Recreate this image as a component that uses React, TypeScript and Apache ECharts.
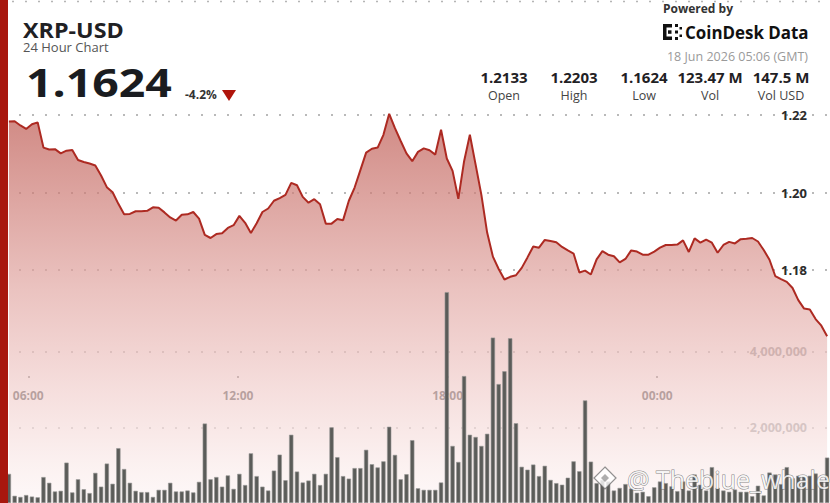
import { useEffect, useRef } from 'react';
import * as echarts from 'echarts';

const FONT = '"Open Sans", "Noto Sans", sans-serif';

// 10-minute slots, 05:30 onwards
const times: string[] = Array.from({ length: 143 }, (_, i) => {
  const m = (330 + i * 10) % 1440;
  return `${String(Math.floor(m / 60)).padStart(2, '0')}:${String(m % 60).padStart(2, '0')}`;
});

const prices = [
  1.2183, 1.2184, 1.2173, 1.2164, 1.2176, 1.2181, 1.2116, 1.2111, 1.2112, 1.2101,
  1.2108, 1.2110, 1.2084, 1.2079, 1.2075, 1.2070, 1.2044, 1.2014, 1.2001, 1.1971,
  1.1944, 1.1945, 1.1952, 1.1952, 1.1953, 1.1962, 1.1961, 1.1949, 1.1936, 1.1928,
  1.1943, 1.1944, 1.1950, 1.1933, 1.1891, 1.1883, 1.1893, 1.1895, 1.1909, 1.1916,
  1.1940, 1.1922, 1.1896, 1.1921, 1.1950, 1.1959, 1.1979, 1.1986, 1.1994, 1.2025,
  1.2019, 1.1989, 1.1974, 1.1983, 1.1970, 1.1920, 1.1920, 1.1932, 1.1929, 1.1979,
  1.2013, 1.2058, 1.2103, 1.2113, 1.2116, 1.2149, 1.2203, 1.2166, 1.2133, 1.2101,
  1.2081, 1.2105, 1.2114, 1.2109, 1.2098, 1.2162, 1.2088, 1.2056, 1.1984, 1.2081,
  1.2149, 1.2072, 1.1994, 1.1897, 1.1835, 1.1803, 1.1776, 1.1783, 1.1787, 1.1806,
  1.1833, 1.1861, 1.1858, 1.1878, 1.1875, 1.1872, 1.1860, 1.1851, 1.1843, 1.1794,
  1.1799, 1.1789, 1.1828, 1.1849, 1.1840, 1.1836, 1.1820, 1.1829, 1.1851, 1.1848,
  1.1840, 1.1840, 1.1848, 1.1858, 1.1865, 1.1865, 1.1866, 1.1877, 1.1847, 1.1882,
  1.1871, 1.1879, 1.1871, 1.1845, 1.1865, 1.1873, 1.1869, 1.1880, 1.1881, 1.1883,
  1.1874, 1.1852, 1.1827, 1.1785, 1.1777, 1.1770, 1.1754, 1.1723, 1.1701, 1.1699,
  1.1674, 1.1657, 1.1630,
];

const volumes = [
  770000, 190000, 160000, 210000, 170000, 150000, 686000, 534000, 305000, 322000,
  1067000, 280000, 627000, 364000, 262000, 796000, 432000, 1042000, 508000, 1449000,
  898000, 534000, 322000, 288000, 288000, 160000, 347000, 347000, 534000, 305000,
  305000, 330000, 280000, 559000, 2100000, 627000, 686000, 432000, 729000, 373000,
  770000, 475000, 1313000, 711000, 432000, 330000, 856000, 1278000, 602000, 1804000,
  831000, 542000, 593000, 771000, 475000, 771000, 2000000, 1211000, 711000, 644000,
  923000, 923000, 1406000, 1025000, 940000, 1101000, 2016000, 1271000, 627000, 762000,
  1660000, 389000, 347000, 347000, 347000, 542000, 5573000, 1508000, 1084000, 3355000,
  1804000, 1745000, 1508000, 1830000, 4371000, 3143000, 3482000, 4354000, 2109000, 957000,
  881000, 1016000, 711000, 983000, 610000, 525000, 483000, 668000, 1101000, 839000,
  2711000, 1093000, 525000, 610000, 568000, 330000, 398000, 500000, 381000, 271000,
  296000, 180000, 415000, 568000, 525000, 440000, 313000, 568000, 330000, 754000,
  483000, 330000, 948000, 398000, 330000, 296000, 356000, 296000, 296000, 180000,
  457000, 200000, 805000, 754000, 500000, 948000, 653000, 720000, 695000, 720000,
  780000, 610000, 1200000,
];

const tickHours = [6, 12, 18, 24];
const tickLabels = ['06:00', '12:00', '18:00', '00:00'];

const statValues = ['1.2133', '1.2203', '1.1624', '123.47 M', '147.5 M'];
const statLabels = ['Open', 'High', 'Low', 'Vol', 'Vol USD'];
const statCenters = [504, 574, 644, 710, 781];

const dotted = { type: [2, 11] as number[], width: 1.5, color: '#a3a3a3' };

export default function App() {
  const chartRef = useRef<HTMLDivElement>(null);

  useEffect(() => {
    if (!chartRef.current) return;
    const chart = echarts.init(chartRef.current, null, { renderer: 'svg' });

    const graphics: any[] = [
      // top dotted rule
      {
        type: 'line',
        shape: { x1: 12, y1: 1.5, x2: 830, y2: 1.5 },
        style: { stroke: '#b5b5b5', lineWidth: 1.5, lineDash: [2, 11] },
      },
      // left accent bar
      { type: 'rect', z: 100, shape: { x: 0, y: 0, width: 8, height: 503 }, style: { fill: '#a8170e' } },
      {
        type: 'text', x: 23, y: 29.3, scaleX: 1.06,
        style: { text: 'XRP-USD', font: `bold 22px ${FONT}`, fill: '#1f2124', verticalAlign: 'middle' },
      },
      {
        type: 'text', x: 23, y: 46.5,
        style: { text: '24 Hour Chart', font: `13px ${FONT}`, fill: '#555', verticalAlign: 'middle' },
      },
      {
        type: 'text', x: 26, y: 81.5, scaleX: 1.19,
        style: { text: '1.1624', font: `bold 39px ${FONT}`, fill: '#1a1c20', verticalAlign: 'middle' },
      },
      {
        type: 'text', x: 185, y: 94.7,
        style: { text: '-4.2%', font: `bold 12px ${FONT}`, fill: '#333', verticalAlign: 'middle' },
      },
      {
        type: 'polygon',
        shape: { points: [[222, 90], [236, 90], [229, 101]] },
        style: { fill: '#b0150c' },
      },
      {
        type: 'text', x: 663, y: 8,
        style: { text: 'Powered by', font: `bold 12px ${FONT}`, fill: '#333', verticalAlign: 'middle' },
      },
      // CoinDesk mark
      { type: 'rect', shape: { x: 663, y: 24, width: 3.5, height: 16 }, style: { fill: '#111' } },
      { type: 'rect', shape: { x: 663, y: 24, width: 9, height: 3.5 }, style: { fill: '#111' } },
      { type: 'rect', shape: { x: 663, y: 36.5, width: 9, height: 3.5 }, style: { fill: '#111' } },
      { type: 'rect', shape: { x: 668, y: 30.3, width: 3.5, height: 3.5 }, style: { fill: '#111' } },
      { type: 'rect', shape: { x: 675, y: 24, width: 3, height: 3 }, style: { fill: '#111' } },
      { type: 'rect', shape: { x: 675, y: 30.5, width: 3, height: 3 }, style: { fill: '#111' } },
      { type: 'rect', shape: { x: 675, y: 37, width: 3, height: 3 }, style: { fill: '#111' } },
      { type: 'rect', shape: { x: 679.5, y: 27, width: 2.5, height: 2.5 }, style: { fill: '#111' } },
      { type: 'rect', shape: { x: 679.5, y: 34.5, width: 2.5, height: 2.5 }, style: { fill: '#111' } },
      {
        type: 'text', x: 685, y: 32, scaleX: 0.94,
        style: { text: 'CoinDesk Data', font: `bold 18px ${FONT}`, fill: '#111', verticalAlign: 'middle' },
      },
      {
        type: 'text', x: 808, y: 56.5,
        style: { text: '18 Jun 2026 05:06 (GMT)', font: `12.5px ${FONT}`, fill: '#9a9a9a', align: 'right', verticalAlign: 'middle' },
      },
      // watermark
      {
        type: 'polygon', z: 50,
        shape: { points: [[605, 467], [616, 478], [605, 489], [594, 478]] },
        style: { fill: 'rgba(255,255,255,0.8)', stroke: 'rgba(100,100,100,0.7)', lineWidth: 1.2 },
      },
      {
        type: 'polygon', z: 51,
        shape: { points: [[605, 474], [609, 478], [605, 482], [601, 478]] },
        style: { fill: 'rgba(120,120,120,0.6)' },
      },
      {
        type: 'text', x: 627, y: 479, z: 50,
        style: {
          text: '@ Thebiue_whale', font: `25px ${FONT}`, fill: 'rgba(255,255,255,0.85)',
          stroke: 'rgba(95,95,95,0.75)', lineWidth: 1, verticalAlign: 'middle',
        },
      },
    ];

    statValues.forEach((v, i) => {
      graphics.push({
        type: 'text', x: statCenters[i], y: 77.3,
        style: { text: v, font: `bold 15px ${FONT}`, fill: '#1f2124', align: 'center', verticalAlign: 'middle' },
      });
      graphics.push({
        type: 'text', x: statCenters[i], y: 95,
        style: { text: statLabels[i], font: `12.5px ${FONT}`, fill: '#444', align: 'center', verticalAlign: 'middle' },
      });
    });

    const option: echarts.EChartsOption = {
      animation: false,
      backgroundColor: '#ffffff',
      textStyle: { fontFamily: FONT },
      grid: [
        { left: 6, right: 0, top: 115, height: 412.5 },
        { left: 6, right: 0, top: 276, height: 236 },
        { left: 6, right: 0, top: 0, height: 376 },
      ],
      xAxis: [
        { type: 'category', gridIndex: 0, data: times, boundaryGap: true, show: false },
        { type: 'category', gridIndex: 1, data: times, boundaryGap: true, show: false },
        {
          type: 'value', gridIndex: 2, min: 5.362, max: 28.944, position: 'bottom',
          axisLine: { show: false },
          splitLine: { show: false },
          axisTick: { show: true, customValues: tickHours, length: 2, lineStyle: { color: '#555', width: 1.5 } },
          axisLabel: {
            customValues: tickHours,
            margin: 13,
            color: '#2b2b2b',
            fontWeight: 'bold',
            fontSize: 12,
            fontFamily: FONT,
            formatter: (v: number) => tickLabels[tickHours.indexOf(Math.round(v))] ?? '',
          },
        },
      ],
      yAxis: [
        {
          type: 'value', gridIndex: 0, position: 'right', min: 1.12, max: 1.22, interval: 0.02,
          axisLine: { show: false }, axisTick: { show: false },
          axisLabel: {
            inside: true, margin: 23, color: '#2b2b2b', fontWeight: 'bold', fontSize: 13, fontFamily: FONT,
            formatter: (v: number) => (v >= 1.179 ? v.toFixed(2) : ''),
          },
          splitLine: {
            show: true,
            lineStyle: { ...dotted, color: ['transparent', 'transparent', 'transparent', '#a3a3a3', '#a3a3a3', '#a3a3a3'] },
          },
        },
        {
          type: 'value', gridIndex: 1, position: 'right', min: 0, max: 6000000, interval: 2000000,
          axisLine: { show: false }, axisTick: { show: false },
          axisLabel: {
            inside: true, margin: 23, color: '#8c8c8c', fontWeight: 'bold', fontSize: 12.5, fontFamily: FONT,
            formatter: (v: number) => (v > 0 && v < 6000000 ? v.toLocaleString('en-US') : ''),
          },
          splitLine: {
            show: true,
            lineStyle: { ...dotted, color: ['transparent', '#a3a3a3', '#a3a3a3', 'transparent'] },
          },
        },
        { type: 'value', gridIndex: 2, min: 0, max: 1, show: false },
      ],
      series: [
        {
          name: 'Price',
          type: 'line',
          xAxisIndex: 0,
          yAxisIndex: 0,
          data: prices,
          symbol: 'none',
          clip: false,
          lineStyle: { color: '#ad2a22', width: 2 },
          areaStyle: {
            color: {
              type: 'linear', x: 0, y: 0, x2: 0, y2: 1,
              colorStops: [
                { offset: 0, color: '#bd5850' },
                { offset: 0.45, color: '#e2a9a5' },
                { offset: 0.7, color: '#f1cfcd' },
                { offset: 0.9, color: '#faebea' },
                { offset: 1, color: '#fdf6f6' },
              ],
            },
          },
          z: 2,
        },
        {
          name: 'Volume',
          type: 'bar',
          xAxisIndex: 1,
          yAxisIndex: 1,
          data: volumes,
          barWidth: '74%',
          itemStyle: { color: '#5b5c59', borderColor: '#979795', borderWidth: 0.6 },
          z: 3,
        },
      ],
      graphic: graphics,
    };

    chart.setOption(option);
    return () => chart.dispose();
  }, []);

  return (
    <div style={{ position: 'fixed', left: 0, top: 0, width: 830, height: 503, background: '#fff' }}>
      <div ref={chartRef} style={{ width: 830, height: 503 }} />
    </div>
  );
}
